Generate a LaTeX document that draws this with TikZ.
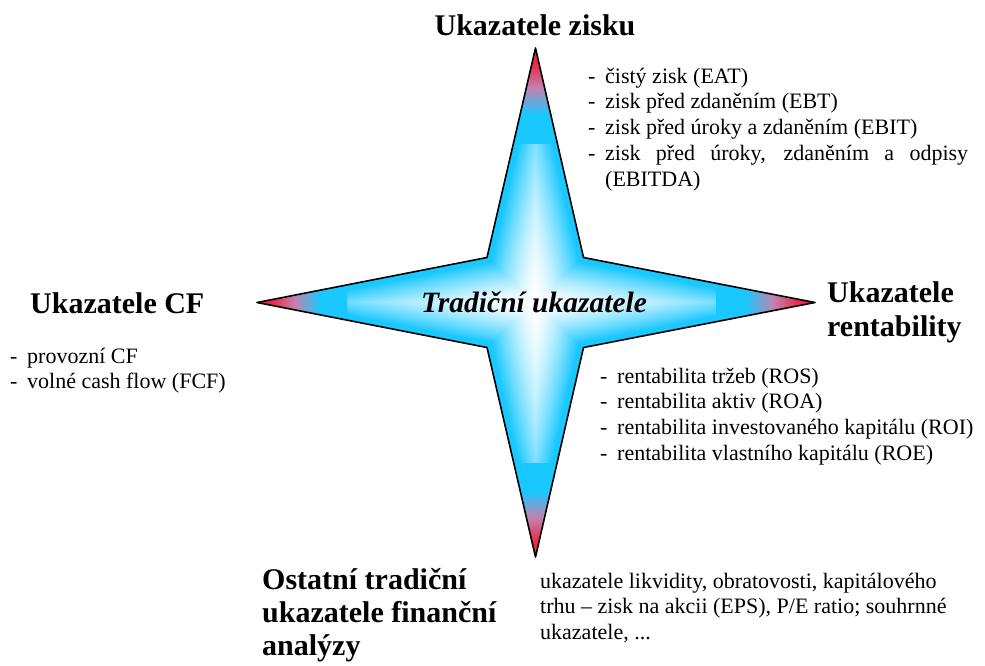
\documentclass[tikz,border=0pt]{standalone}
\usepackage{fontspec}
\setmainfont{Liberation Serif}
\definecolor{cyanA}{RGB}{25,200,255}
\definecolor{redA}{RGB}{240,30,60}
\definecolor{mauveA}{RGB}{195,130,175}
\pgfdeclareverticalshading{tipshade}{100bp}{color(0bp)=(cyanA); color(25bp)=(cyanA); color(40bp)=(cyanA); color(54bp)=(mauveA); color(66bp)=(redA!85!mauveA); color(75bp)=(redA); color(100bp)=(redA)}
\newcommand{\itm}[1]{\makebox[17pt][l]{-}#1}
\tikzset{
  starpath/.style={insert path={(0,-254.5) -- (48,-45) -- (279.5,0) -- (48,45) -- (0,254.5) -- (-48.5,45) -- (-278.5,0) -- (-48.5,-45) -- cycle}},
  headtxt/.style={font=\fontsize{30}{33.5}\selectfont\bfseries, inner sep=0pt},
  bodytxt/.style={font=\fontsize{22}{25.8}\selectfont, inner sep=0pt}
}
\begin{document}
\begin{tikzpicture}[x=1pt,y=-1pt]
\useasboundingbox (0,0) rectangle (985,665);
\begin{scope}[shift={(535.5,302.5)}]
  \begin{scope}
    \clip[starpath];
    \fill[cyanA] (-300,-300) rectangle (300,300);
    \foreach \i in {1,...,60}{
      \pgfmathsetmacro\s{1-\i/61}
      \pgfmathsetmacro\p{100*(min(1,\s/0.92))^1.6}
      \fill[cyanA!\p!white, scale=\s, starpath];
    }
    % tip zones
    \shade[shading=tipshade] (-60,-254.5) rectangle (60,-159.5);
    \shade[shading=tipshade, shading angle=180] (-60,160.5) rectangle (60,254.5);
    \shade[shading=tipshade, shading angle=90] (-278.5,-60) rectangle (-188.5,60);
    \shade[shading=tipshade, shading angle=270] (180.5,-60) rectangle (279.5,60);
  \end{scope}
  \draw[line width=1.6pt, line join=round, starpath];
\end{scope}

\node[font=\fontsize{29.5}{32}\selectfont\bfseries\itshape, inner sep=0pt, anchor=base] (ct) at (534,312) {Tradiční ukazatele};

\node[headtxt, anchor=base] (hz) at (535,35) {Ukazatele zisku};
\node[headtxt, anchor=base west] (hcf) at (30,313) {Ukazatele CF};
\node[headtxt, anchor=base west] (hr) at (827,302) {\fontsize{30}{34}\selectfont\begin{tabular}[t]{@{}l@{}}Ukazatele\\rentability\end{tabular}};
\node[headtxt, anchor=base west] (ho) at (262,589) {\fontsize{30}{33}\selectfont\begin{tabular}[t]{@{}l@{}}Ostatní tradiční\\ukazatele finanční\\analýzy\end{tabular}};

\node[bodytxt, anchor=base west] (lz) at (588,83) {\begin{tabular}[t]{@{}l@{}}\itm{čistý zisk (EAT)}\\\itm{zisk před zdaněním (EBT)}\\\itm{zisk před úroky a zdaněním (EBIT)}\\\itm{\makebox[363pt][s]{zisk před úroky, zdaněním a odpisy}}\\\hspace*{17pt}(EBITDA)\end{tabular}};
\node[bodytxt, anchor=base west] (lcf) at (10,363) {\begin{tabular}[t]{@{}l@{}}\itm{provozní CF}\\\itm{volné cash flow (FCF)}\end{tabular}};
\node[bodytxt, anchor=base west] (lr) at (600,383) {\begin{tabular}[t]{@{}l@{}}\itm{rentabilita tržeb (ROS)}\\\itm{rentabilita aktiv (ROA)}\\\itm{rentabilita investovaného kapitálu (ROI)}\\\itm{rentabilita vlastního kapitálu (ROE)}\end{tabular}};
\node[bodytxt, anchor=base west] (lo) at (540,588) {\begin{tabular}[t]{@{}l@{}}ukazatele likvidity, obratovosti, kapitálového\\trhu -- zisk na akcii (EPS), P/E ratio; souhrnné\\ukazatele, ...\end{tabular}};
\end{tikzpicture}
\end{document}
